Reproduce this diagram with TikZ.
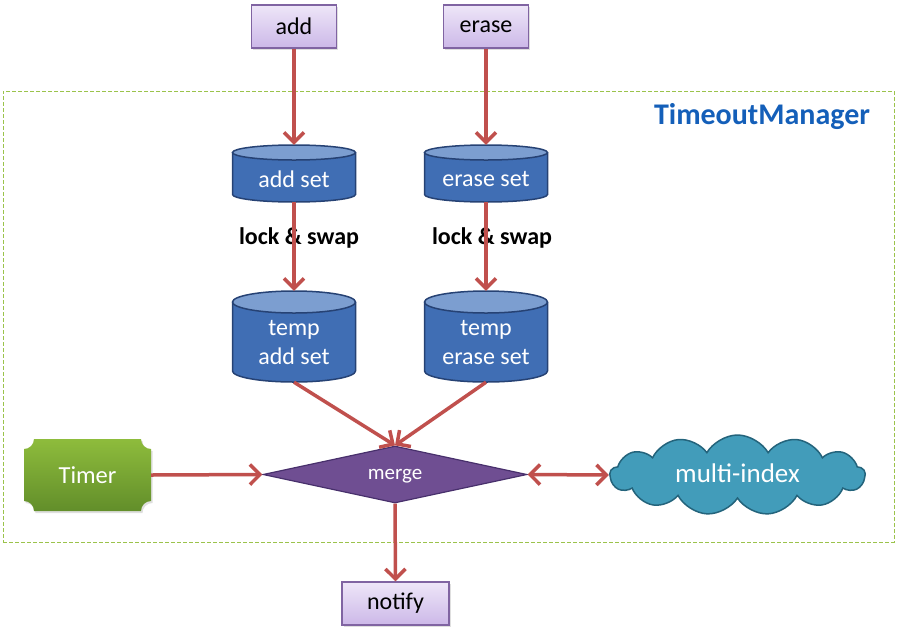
\documentclass[tikz,border=0pt]{standalone}
\usepackage{fontspec}
\setmainfont{Carlito}
\usetikzlibrary{arrows.meta,shapes.geometric,shapes.symbols,shadows}
\definecolor{arrred}{RGB}{192,80,77}
\definecolor{boxtop}{RGB}{238,230,248}
\definecolor{boxbot}{RGB}{204,184,232}
\definecolor{boxline}{RGB}{128,100,162}
\definecolor{cylbody}{RGB}{64,110,180}
\definecolor{cyltopc}{RGB}{124,158,208}
\definecolor{cylline}{RGB}{38,66,116}
\definecolor{framec}{RGB}{155,195,75}
\definecolor{tmblue}{RGB}{20,95,185}
\definecolor{mergefill}{RGB}{111,78,146}
\definecolor{mergeline}{RGB}{72,48,108}
\definecolor{cloudfill}{RGB}{66,156,186}
\definecolor{cloudline}{RGB}{36,100,124}
\definecolor{timertop}{RGB}{142,188,60}
\definecolor{timerbot}{RGB}{98,142,42}
\newcommand\mkcyl[5]{%
  \fill[cylbody] ({#2-61.5},{-#3-#5}) -- ({#2-61.5},{-#4+#5})
     arc[start angle=180,end angle=360,x radius=61.5,y radius=#5]
     -- ({#2+61.5},{-#3-#5}) -- cycle;
  \draw[cylline,line width=1.5] ({#2-61.5},{-#3-#5}) -- ({#2-61.5},{-#4+#5})
     arc[start angle=180,end angle=360,x radius=61.5,y radius=#5]
     -- ({#2+61.5},{-#3-#5});
  \filldraw[fill=cyltopc,draw=cylline,line width=1.5] (#2,{-#3-#5}) ellipse[x radius=61.5,y radius=#5];
  \node[inner sep=0,minimum width=123,minimum height={#4-#3}] (#1) at (#2,{-(#3+#4)/2}) {};
}
\begin{document}
\begin{tikzpicture}[x=1pt,y=1pt,
  arr/.style={draw=arrred,line width=3.5,-{Straight Barb[length=10,width=20,line width=3.5]}},
  darr/.style={draw=arrred,line width=3.5,{Straight Barb[length=10,width=20,line width=3.5]}-{Straight Barb[length=10,width=20,line width=3.5]}},
  pbox/.style={rectangle,draw=boxline,line width=1.2,top color=boxtop,bottom color=boxbot,
    inner sep=0,font=\fontsize{24}{28}\selectfont,text=black,
    drop shadow={shadow xshift=1.5pt,shadow yshift=-2pt,opacity=0.25}},
  cyltext/.style={text=white,font=\fontsize{24}{29}\selectfont,align=center,inner sep=0},
  lbl/.style={font=\bfseries\fontsize{24}{28}\selectfont,text=black,inner sep=0},
  frame/.style={draw=framec,line width=1,dash pattern=on 4pt off 2pt},
]
\useasboundingbox (0,0) rectangle (903,-633);

% frame
\node[frame,minimum width=891,minimum height=451,inner sep=0] (tm) at (448.5,-316.5) {};
\node[text=tmblue,font=\bfseries\fontsize{30}{34}\selectfont,inner sep=0] (tmlabel) at (762,-117) {TimeoutManager};

% input boxes
\node[pbox,minimum width=85,minimum height=43] (add) at (294,-26.5) {add};
\node[pbox,minimum width=85,minimum height=43] (erase) at (486,-26.5) {erase};

% cylinders
\mkcyl{addset}{294}{145}{202}{7.5}
\node[cyltext] (addsettext) at (294,-179) {add set};
\mkcyl{eraseset}{486}{145}{202}{7.5}
\node[cyltext] (erasesettext) at (486,-179) {erase set};
\mkcyl{tempadd}{294}{291}{382}{11}
\node[cyltext] (tempaddtext) at (294,-342.5) {temp\\add set};
\mkcyl{temperase}{486}{291}{382}{11}
\node[cyltext] (temperasetext) at (486,-342.5) {temp\\erase set};

% lock & swap labels
\node[lbl] (ls1) at (299,-238) {lock \& swap};
\node[lbl] (ls2) at (492,-238) {lock \& swap};

% merge diamond
\node[diamond,fill=mergefill,draw=mergeline,line width=1.2,minimum width=264,minimum height=57,
  shape aspect=4.6,inner sep=0] (merge) at (395,-474.5) {};
\node[anchor=base,inner sep=0,text=white,font=\fontsize{21}{24}\selectfont] (mergetext) at (395,-479.5) {merge};

% Timer
\shade[top color=timertop,bottom color=timerbot,
  drop shadow={shadow xshift=1.5pt,shadow yshift=-2pt,opacity=0.25}]
  (34,-439) -- (141,-439) arc[start angle=180,end angle=270,radius=10]
  -- (151,-501) arc[start angle=90,end angle=180,radius=10]
  -- (34,-511) arc[start angle=0,end angle=90,radius=10]
  -- (24,-449) arc[start angle=270,end angle=360,radius=10] -- cycle;
\node[inner sep=0,minimum width=127,minimum height=72] (timer) at (87.5,-475) {};
\node[anchor=base,inner sep=0,text=white,font=\fontsize{24.5}{28}\selectfont] (timertext) at (87.5,-483) {Timer};

% cloud
\node[cloud,cloud puffs=13,cloud puff arc=120,cloud ignores aspect,fill=cloudfill,draw=cloudline,line width=1.5,
  minimum width=255,minimum height=80,inner sep=0] (mi) at (737.5,-475) {};
\node[anchor=base,inner sep=0,text=white,font=\fontsize{27}{30}\selectfont] (mitext) at (737.5,-482) {multi-index};

% notify
\node[pbox,minimum width=107,minimum height=43] (notify) at (395.5,-603.5) {notify};

% connectors
\draw[arr] (add.south) -- (addset.north);
\draw[arr] (erase.south) -- (eraseset.north);
\draw[arr] (addset.south) -- (tempadd.north);
\draw[arr] (eraseset.south) -- (temperase.north);
\draw[arr] (tempadd.south) -- (merge.north);
\draw[arr] (temperase.south) -- (merge.north);
\draw[arr] (timer.east) -- (merge.west);
\draw[darr] (merge.east) -- (mi.west);
\draw[arr] (merge.south) -- (notify.north);
\end{tikzpicture}
\end{document}
